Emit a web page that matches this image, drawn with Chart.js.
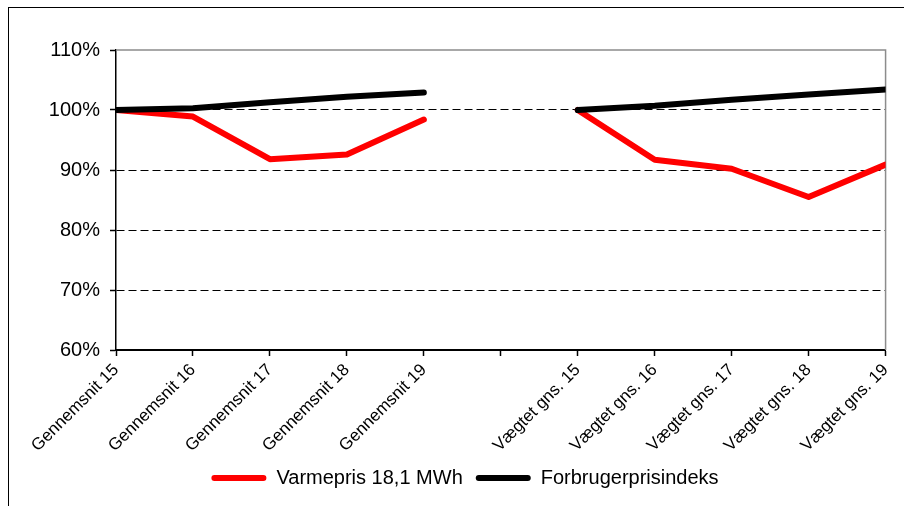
<!DOCTYPE html>
<html>
<head>
<meta charset="utf-8">
<script src="https://cdn.jsdelivr.net/npm/chart.js@4.4.0/dist/chart.umd.min.js"></script>
<style>
html, body { margin: 0; padding: 0; background: #fff; overflow: hidden; }
#wrap { position: relative; width: 904px; height: 506px; }
#frame { position: absolute; left: 8px; top: 7px; width: 1000px; height: 1000px; border-left: 1px solid #000; border-top: 1px solid #000; }
#plot { position: absolute; left: 0; top: 0; }
</style>
</head>
<body>
<div id="wrap">
    <div id="frame"></div>
    <canvas id="plot" width="904" height="506"></canvas>
</div>
<script>
// categories on the x axis (the empty one separates the two groups)
const categories = ['Gennemsnit 15', 'Gennemsnit 16', 'Gennemsnit 17', 'Gennemsnit 18', 'Gennemsnit 19', '',
    'Vægtet gns. 15', 'Vægtet gns. 16', 'Vægtet gns. 17', 'Vægtet gns. 18', 'Vægtet gns. 19']

// index values in percent
const varmepris = [100, 98.9, 91.8, 92.6, 98.4, null, 100, 91.7, 90.2, 85.5, 90.9]
const forbrugerprisindeks = [100, 100.3, 101.3, 102.2, 102.9, null, 100, 100.7, 101.7, 102.6, 103.4]

const seriesNames = ['Varmepris 18,1 MWh', 'Forbrugerprisindeks']
const yTicks = [60, 70, 80, 90, 100, 110]

const FONT = 'Liberation Sans, Arial, sans-serif'

// grey border on top and right of the plot area
const plotFrame = {
    id: 'plotFrame',
    beforeDatasetsDraw(chart) {
        const { ctx, chartArea } = chart
        ctx.save()
        ctx.strokeStyle = '#8c8c8c'
        ctx.lineWidth = 1.5
        ctx.beginPath()
        ctx.moveTo(chartArea.left, chartArea.top)
        ctx.lineTo(chartArea.right, chartArea.top)
        ctx.lineTo(chartArea.right, chartArea.bottom)
        ctx.stroke()
        ctx.restore()
    }
}

const ctx = document.getElementById('plot').getContext('2d')
const chart = new Chart(ctx, {
    type: 'line',
    data: {
        labels: categories,
        datasets: [
            {
                label: seriesNames[0],
                data: varmepris,
                borderColor: '#ff0000',
                backgroundColor: '#ff0000',
                borderWidth: 6,
                order: 1,
            },
            {
                label: seriesNames[1],
                data: forbrugerprisindeks,
                borderColor: '#000000',
                backgroundColor: '#000000',
                borderWidth: 6,
                order: 0,
            },
        ],
    },
    options: {
        responsive: false,
        animation: false,
        devicePixelRatio: 1,
        layout: { padding: { top: 50, left: 44, right: 18, bottom: 8 } },
        elements: {
            point: { radius: 0 },
            line: { tension: 0, borderCapStyle: 'round', borderJoinStyle: 'round' },
        },
        datasets: { line: { clip: 0, spanGaps: false } },
        plugins: {
            tooltip: { enabled: false },
            legend: {
                position: 'bottom',
                labels: {
                    color: '#000',
                    font: { family: FONT, size: 20 },
                    boxWidth: 55,
                    boxHeight: 6,
                    useBorderRadius: true,
                    borderRadius: 3,
                    padding: 13,
                    sort: (a, b) => a.datasetIndex - b.datasetIndex,
                    generateLabels(chart) {
                        const items = Chart.defaults.plugins.legend.labels.generateLabels(chart)
                        items.forEach(it => { it.lineWidth = 0; it.fillStyle = it.strokeStyle })
                        return items
                    },
                },
            },
        },
        scales: {
            x: {
                type: 'category',
                offset: false,
                grid: { drawOnChartArea: false, drawTicks: true, tickLength: 6, tickColor: '#000', tickWidth: 1.5 },
                border: { color: '#000', width: 2 },
                ticks: {
                    autoSkip: false,
                    maxRotation: 45,
                    minRotation: 45,
                    padding: 4,
                    color: '#000',
                    font: { family: FONT, size: 17 },
                },
                afterFit(axis) { axis.height = 105 },
            },
            y: {
                min: yTicks[0],
                max: yTicks[yTicks.length - 1],
                afterBuildTicks(axis) { axis.ticks = yTicks.map(v => ({ value: v })) },
                grid: {
                    color: c => (c.tick && (c.tick.value === 60 || c.tick.value === 110)) ? 'rgba(0,0,0,0)' : '#000',
                    lineWidth: 1,
                    tickLength: 6,
                    tickColor: '#000',
                    tickWidth: 1.5,
                },
                border: { color: '#000', width: 1.5, dash: [8, 4] },
                ticks: {
                    padding: 10,
                    color: '#000',
                    font: { family: FONT, size: 20 },
                    callback: v => v + '%',
                },
                afterFit(axis) { axis.width = 72 },
            },
        },
    },
    plugins: [plotFrame],
})
</script>
</body>
</html>
